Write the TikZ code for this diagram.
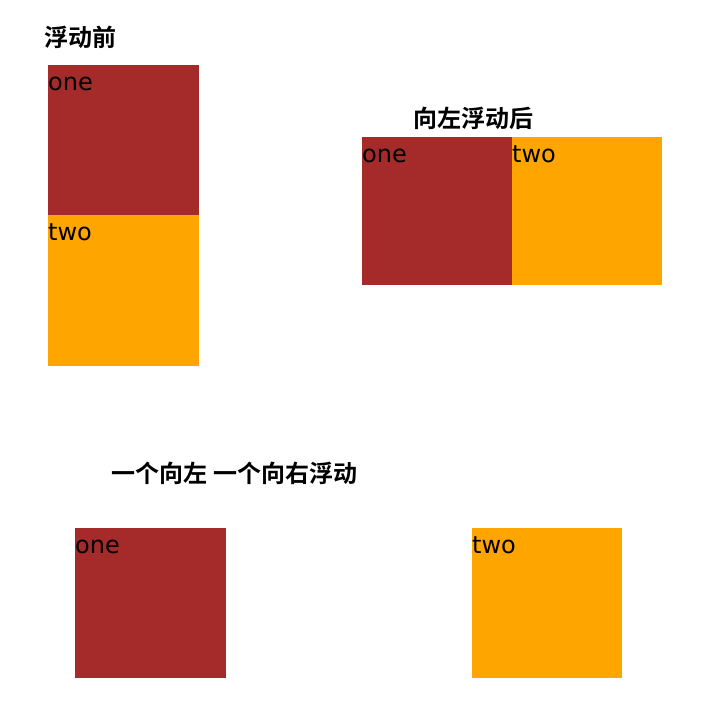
\documentclass[tikz,border=0pt]{standalone}
\usepackage{fontspec}
\setmainfont{DejaVu Sans}
\newfontfamily\cjk{Noto Sans CJK SC}[BoldFont={* Bold}]
\definecolor{brownbox}{HTML}{A52A2A}
\definecolor{orangebox}{HTML}{FFA500}
\begin{document}
\begin{tikzpicture}[x=1pt,y=-1pt,
  boxlabel/.style={anchor=base west,inner sep=0pt,font=\fontsize{24}{28}\selectfont},
  title/.style={anchor=base,inner sep=0pt,font=\cjk\bfseries\fontsize{24}{28}\selectfont},
  brownfill/.style={fill=brownbox},
  orangefill/.style={fill=orangebox}]
\useasboundingbox (0,0) rectangle (718,712);
% titles
\node[title] (t1) at (81,46) {浮动前};
\node[title] (t2) at (473,127) {向左浮动后};
\node[title] (t3) at (234.5,482) {一个向左 一个向右浮动};
% before floating
\fill[brownfill] (48,65) rectangle (199,215);
\fill[orangefill] (48,215) rectangle (199,366);
\node[boxlabel] (a1) at (48,90) {one};
\node[boxlabel] (a2) at (48,240) {two};
% float left
\fill[brownfill] (362,137) rectangle (512,285);
\fill[orangefill] (512,137) rectangle (662,285);
\node[boxlabel] (b1) at (362,162) {one};
\node[boxlabel] (b2) at (512,162) {two};
% left and right
\fill[brownfill] (75,528) rectangle (226,678);
\fill[orangefill] (472,528) rectangle (622,678);
\node[boxlabel] (c1) at (75,553) {one};
\node[boxlabel] (c2) at (472,553) {two};
\end{tikzpicture}
\end{document}
